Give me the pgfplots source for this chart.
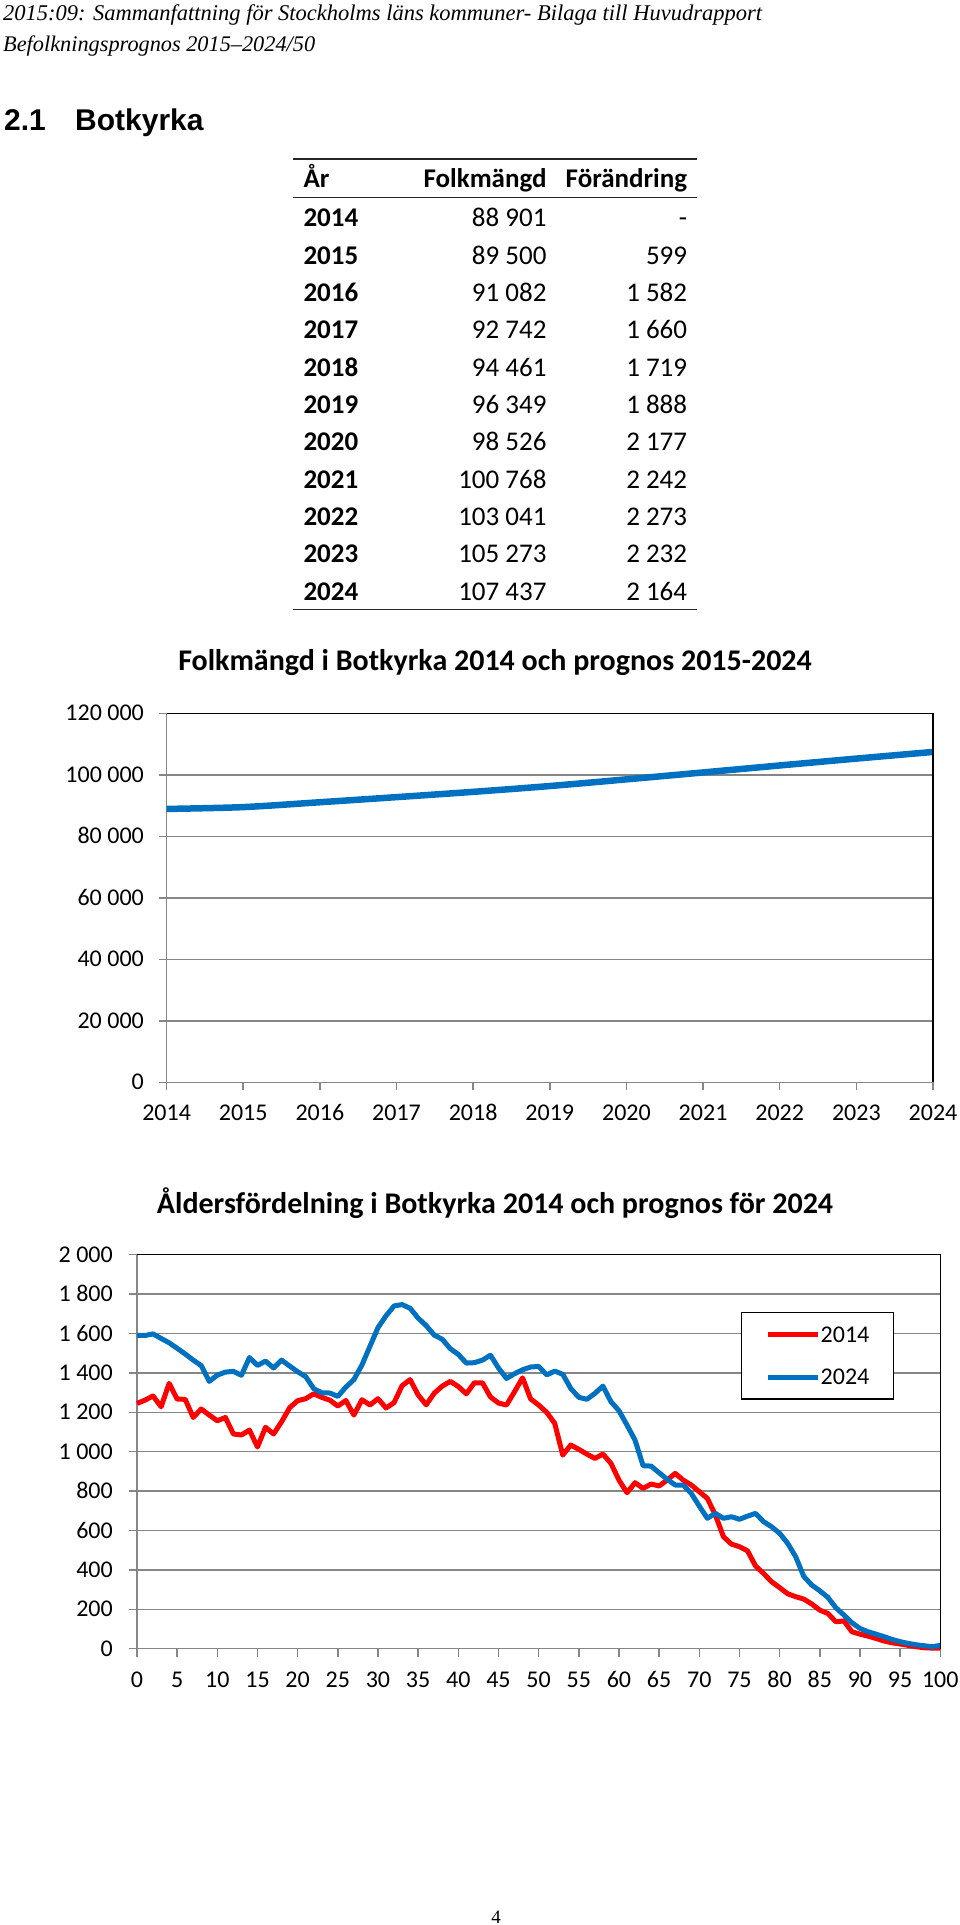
\documentclass[border=0pt]{standalone}
\usepackage{pgfplots}
\pgfplotsset{compat=1.18}
\usepackage{pgfplotstable}
\usepackage{fontspec}
\setmainfont{Carlito}
\newfontfamily\arialfont{Liberation Sans}
\newfontfamily\seriffont{Liberation Serif}
\definecolor{xlblue}{RGB}{0,112,192}
\definecolor{xlred}{RGB}{255,0,0}
\definecolor{gridgray}{RGB}{134,134,134}
\newcommand{\fs}[1]{\fontsize{#1}{#1}\selectfont}

\pgfplotstableread{
year pop
2014 88901
2015 89500
2016 91082
2017 92742
2018 94461
2019 96349
2020 98526
2021 100768
2022 103041
2023 105273
2024 107437
}\popdata

\pgfplotstableread{
age v2014 v2024
0 1245 1590
1 1262 1590
2 1283 1598
3 1228 1575
4 1347 1553
5 1267 1525
6 1266 1496
7 1174 1465
8 1217 1437
9 1186 1357
10 1157 1389
11 1174 1404
12 1090 1408
13 1085 1388
14 1110 1478
15 1024 1438
16 1124 1460
17 1090 1425
18 1152 1465
19 1223 1435
20 1259 1406
21 1269 1381
22 1294 1320
23 1276 1299
24 1262 1298
25 1232 1281
26 1260 1328
27 1186 1366
28 1264 1440
29 1237 1535
30 1269 1630
31 1222 1690
32 1249 1740
33 1335 1747
34 1366 1728
35 1288 1678
36 1238 1640
37 1297 1592
38 1333 1571
39 1357 1523
40 1331 1494
41 1294 1450
42 1350 1452
43 1350 1465
44 1278 1490
45 1247 1425
46 1237 1372
47 1305 1396
48 1375 1416
49 1268 1430
50 1237 1433
51 1200 1390
52 1144 1409
53 983 1393
54 1034 1321
55 1012 1276
56 988 1266
57 966 1296
58 988 1333
59 941 1254
60 856 1208
61 792 1135
62 843 1059
63 814 929
64 836 927
65 826 893
66 856 860
67 890 831
68 856 831
69 831 788
70 797 724
71 763 662
72 679 687
73 569 662
74 531 670
75 518 657
76 497 673
77 420 687
78 382 645
79 340 619
80 310 586
81 279 535
82 264 467
83 252 367
84 227 323
85 196 294
86 179 261
87 137 208
88 141 171
89 86 132
90 74 103
91 64 86
92 52 74
93 39 61
94 30 47
95 24 36
96 17 27
97 10 20
98 5 15
99 3 10
100 3 17
}\agedata

\pgfplotsset{
  xlstyle/.style={
    scale only axis, anchor=south west, clip=false,
    scaled ticks=false,
    axis line style={gridgray, line width=1.5pt},
    tick style={gridgray, line width=1.5pt},
    tick align=outside, tick pos=left, major tick length=8pt,
    ymajorgrids, grid style={gridgray, line width=1.5pt},
    ticklabel style={font=\fs{24}},
    yticklabel style={anchor=east, inner sep=0pt, text height=15pt, text depth=0pt},
    xticklabel style={anchor=north, inner sep=0pt, text height=15pt, text depth=0pt},
    after end axis/.code={\draw[black, line width=1.3pt] (rel axis cs:0,1) -- (rel axis cs:1,1) -- (rel axis cs:1,0);},
  }
}

\begin{document}
\begin{tikzpicture}
\path[use as bounding box] (0,0) rectangle (960pt,-1925pt);

% page header
\node[anchor=base west, inner sep=0pt, font=\seriffont\itshape\fs{22.5}] at (3pt,-20.7pt) {2015:09: Sammanfattning för Stockholms läns kommuner- Bilaga till Huvudrapport};
\node[anchor=base west, inner sep=0pt, font=\seriffont\itshape\fs{22.3}] at (3pt,-51.7pt) {Befolkningsprognos 2015–2024/50};
\node[anchor=base west, inner sep=0pt, font=\arialfont\bfseries\fs{30}] at (4pt,-130pt) {2.1};
\node[anchor=base west, inner sep=0pt, font=\arialfont\bfseries\fs{30}] at (75pt,-130pt) {Botkyrka};

% table
\draw[line width=1.3pt, black!85] (293pt,-159pt) -- (697pt,-159pt);
\draw[line width=1.3pt, black!85] (293pt,-197.7pt) -- (697pt,-197.7pt);
\draw[line width=1.3pt, black!85] (293pt,-609.3pt) -- (697pt,-609.3pt);
\begin{scope}[every node/.style={inner sep=0pt, font=\fs{27}}]
\node[anchor=base west] at (303.3pt,-187.3pt) {\bfseries År};
\node[anchor=base east] at (546.7pt,-187.3pt) {\bfseries Folkmängd};
\node[anchor=base east] at (687.3pt,-187.3pt) {\bfseries Förändring};
\foreach \yr/\po/\ch [count=\i from 0] in {2014/88 901/-, 2015/89 500/599, 2016/91 082/1 582, 2017/92 742/1 660, 2018/94 461/1 719, 2019/96 349/1 888, 2020/98 526/2 177, 2021/100 768/2 242, 2022/103 041/2 273, 2023/105 273/2 232, 2024/107 437/2 164}{
  \pgfmathsetmacro{\by}{-(226.7+37.34*\i)}
  \node[anchor=base west] at (303.3pt,\by pt) {\bfseries\yr};
  \node[anchor=base east] at (546.7pt,\by pt) {\po};
  \node[anchor=base east] at (687.3pt,\by pt) {\ch};
}
\end{scope}

% chart 1
\node[inner sep=0pt, font=\bfseries\fs{30}] at (495pt,-663pt) {Folkmängd i Botkyrka 2014 och prognos 2015-2024};
\begin{axis}[xlstyle,
  at={(166.6pt,-1082.3pt)}, width=766.4pt, height=369pt,
  xmin=2014, xmax=2024, ymin=0, ymax=120000,
  xtick={2014,2015,...,2024},
  xticklabels={2014,2015,2016,2017,2018,2019,2020,2021,2022,2023,2024},
  ytick={0,20000,40000,60000,80000,100000,120000},
  yticklabels={0,20 000,40 000,60 000,80 000,100 000,120 000},
  yticklabel style={xshift=-14.6pt},
  xticklabel style={yshift=-15pt},
]
\addplot[xlblue, line width=6.5pt, smooth] table[x=year, y=pop] {\popdata};
\end{axis}

% chart 2
\node[inner sep=0pt, font=\bfseries\fs{30}] at (495pt,-1203pt) {Åldersfördelning i Botkyrka 2014 och prognos för 2024};
\begin{axis}[xlstyle,
  at={(137pt,-1648.7pt)}, width=803.3pt, height=394pt,
  xmin=0, xmax=100, ymin=0, ymax=2000,
  xtick={0,5,...,100},
  xticklabels={0,5,10,15,20,25,30,35,40,45,50,55,60,65,70,75,80,85,90,95,100},
  ytick={0,200,...,2000},
  yticklabels={0,200,400,600,800,1 000,1 200,1 400,1 600,1 800,2 000},
  yticklabel style={xshift=-16pt},
  xticklabel style={yshift=-15.7pt},
  legend cell align=left,
  legend image code/.code={\draw[#1, line width=5pt] (0pt,0pt) -- (50pt,0pt);},
  legend style={at={(0.752,0.855)}, anchor=north west, draw=black, line width=1.3pt,
    font=\fs{24}, inner xsep=24pt, inner ysep=14.5pt, row sep=27.5pt,
    nodes={inner sep=0pt, text height=15pt, text depth=0pt}},
]
\addplot[xlred, line width=5pt, line join=round] table[x=age, y=v2014] {\agedata};
\addlegendentry{2014}
\addplot[xlblue, line width=5pt, line join=round] table[x=age, y=v2024] {\agedata};
\addlegendentry{2024}
\end{axis}

\node[anchor=base, inner sep=0pt, font=\seriffont\fs{19}] at (496pt,-1923pt) {4};
\end{tikzpicture}
\end{document}
